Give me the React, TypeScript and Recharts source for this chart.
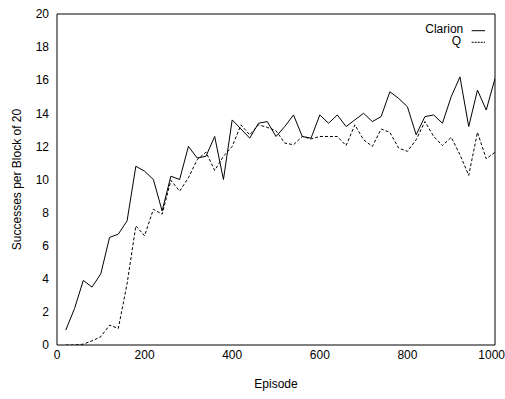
import React from 'react';
import { LineChart, Line, XAxis, YAxis, Legend } from 'recharts';

const episodes = [20, 40, 60, 80, 100, 120, 140, 160, 180, 200, 220, 240, 260, 280, 300, 320, 340, 360, 380, 400, 420, 440, 460, 480, 500, 520, 540, 560, 580, 600, 620, 640, 660, 680, 700, 720, 740, 760, 780, 800, 820, 840, 860, 880, 900, 920, 940, 960, 980, 1000];

const clarion = [0.9, 2.2, 3.9, 3.5, 4.3, 6.5, 6.7, 7.5, 10.8, 10.5, 10.0, 8.1, 10.2, 10.0, 12.0, 11.3, 11.4, 12.6, 10.0, 13.6, 13.05, 12.5, 13.4, 13.5, 12.6, 13.2, 13.9, 12.6, 12.5, 13.9, 13.4, 13.9, 13.2, 13.6, 14.0, 13.5, 13.8, 15.3, 14.9, 14.4, 12.7, 13.8, 13.9, 13.4, 15.0, 16.2, 13.2, 15.4, 14.2, 16.1];

const qValues = [0, 0, 0.05, 0.25, 0.5, 1.2, 1.0, 3.7, 7.2, 6.6, 8.2, 7.9, 9.95, 9.3, 10.1, 11.2, 11.65, 10.55, 11.4, 12.0, 13.3, 12.7, 13.3, 13.15, 12.95, 12.2, 12.1, 12.6, 12.45, 12.6, 12.6, 12.6, 12.05, 13.3, 12.4, 12.0, 13.05, 12.85, 11.9, 11.7, 12.4, 13.5, 12.6, 12.05, 12.55, 11.5, 10.25, 12.85, 11.25, 11.65];

const xTicks = [0, 200, 400, 600, 800, 1000];
const yTicks = [0, 2, 4, 6, 8, 10, 12, 14, 16, 18, 20];

const data = episodes.map((ep, i) => ({ ep, clarion: clarion[i], q: qValues[i] }));

const FONT = '"Liberation Sans", Arial, Helvetica, sans-serif';
const tickStyle = { fill: '#000', fontSize: 12, fontFamily: FONT };

const XTick = (props: any) => {
  const { x, y, payload } = props;
  const isLast = payload.value === xTicks[xTicks.length - 1];
  return (
    <text
      x={isLast ? x + 10 : x}
      y={y}
      dy="0.71em"
      textAnchor={isLast ? 'end' : 'middle'}
      fill="#000"
      fontSize={12}
      fontFamily={FONT}
    >
      {payload.value}
    </text>
  );
};

const LegendContent = () => (
  <svg width={100} height={30} style={{ display: 'block' }}>
    <text x={63.3} y={13.3} textAnchor="end" fontSize={12} fontFamily={FONT} fill="#000">Clarion</text>
    <line x1={71.7} x2={85} y1={10.7} y2={10.7} stroke="#000" strokeWidth={1} />
    <text x={61} y={24.7} textAnchor="end" fontSize={12} fontFamily={FONT} fill="#000">Q</text>
    <line x1={71.7} x2={85} y1={22.3} y2={22.3} stroke="#000" strokeWidth={1} strokeDasharray="2 1" />
  </svg>
);

export default function App() {
  return (
    <div style={{ position: 'absolute', left: 0, top: 0, width: 505, height: 399, background: '#fff' }}>
      <LineChart width={505} height={399} data={data} margin={{ top: 14, right: 10, left: 0, bottom: 0 }}>
        <XAxis
          xAxisId="x"
          dataKey="ep"
          type="number"
          domain={[0, 1000]}
          ticks={xTicks}
          interval={0}
          allowDataOverflow
          height={54}
          tickLine={false}
          tickSize={4}
          tickMargin={1}
          axisLine={{ stroke: '#000', strokeWidth: 1 }}
          tick={<XTick />}
          label={{ value: 'Episode', position: 'insideBottom', offset: 11, fill: '#000', fontSize: 12, fontFamily: FONT }}
        />
        <XAxis
          xAxisId="xin"
          dataKey="ep"
          type="number"
          domain={[0, 1000]}
          ticks={xTicks}
          interval={0}
          allowDataOverflow
          mirror
          tick={false}
          tickSize={4}
          tickLine={{ stroke: '#000' }}
          axisLine={false}
        />
        <XAxis
          xAxisId="xtop"
          dataKey="ep"
          type="number"
          orientation="top"
          domain={[0, 1000]}
          ticks={xTicks}
          interval={0}
          allowDataOverflow
          mirror
          tick={false}
          tickSize={4}
          tickLine={{ stroke: '#000' }}
          axisLine={{ stroke: '#000', strokeWidth: 1 }}
        />
        <YAxis
          yAxisId="y"
          type="number"
          domain={[0, 20]}
          ticks={yTicks}
          interval={0}
          allowDataOverflow
          width={57}
          tickLine={false}
          tickSize={6}
          tickMargin={2}
          axisLine={{ stroke: '#000', strokeWidth: 1 }}
          tick={tickStyle}
          label={{ value: 'Successes per Block of 20', angle: -90, position: 'insideLeft', offset: 17, style: { textAnchor: 'middle' }, fill: '#000', fontSize: 12, fontFamily: FONT }}
        />
        <YAxis
          yAxisId="yin"
          type="number"
          domain={[0, 20]}
          ticks={yTicks}
          interval={0}
          allowDataOverflow
          mirror
          tick={false}
          tickSize={4}
          tickLine={{ stroke: '#000' }}
          axisLine={false}
        />
        <YAxis
          yAxisId="yr"
          type="number"
          orientation="right"
          domain={[0, 20]}
          ticks={yTicks}
          interval={0}
          allowDataOverflow
          mirror
          tick={false}
          tickSize={4}
          tickLine={{ stroke: '#000' }}
          axisLine={{ stroke: '#000', strokeWidth: 1 }}
        />
        <Legend
          layout="vertical"
          align="center"
          verticalAlign="middle"
          content={<LegendContent />}
          wrapperStyle={{ position: 'absolute', left: 400, top: 20, width: 100, height: 30 }}
        />
        <Line
          xAxisId="x"
          yAxisId="y"
          type="linear"
          dataKey="clarion"
          name="Clarion"
          stroke="#000"
          strokeWidth={1}
          dot={false}
          isAnimationActive={false}
        />
        <Line
          xAxisId="x"
          yAxisId="y"
          type="linear"
          dataKey="q"
          name="Q"
          stroke="#000"
          strokeWidth={1}
          strokeDasharray="3 2"
          dot={false}
          isAnimationActive={false}
        />
      </LineChart>
    </div>
  );
}
